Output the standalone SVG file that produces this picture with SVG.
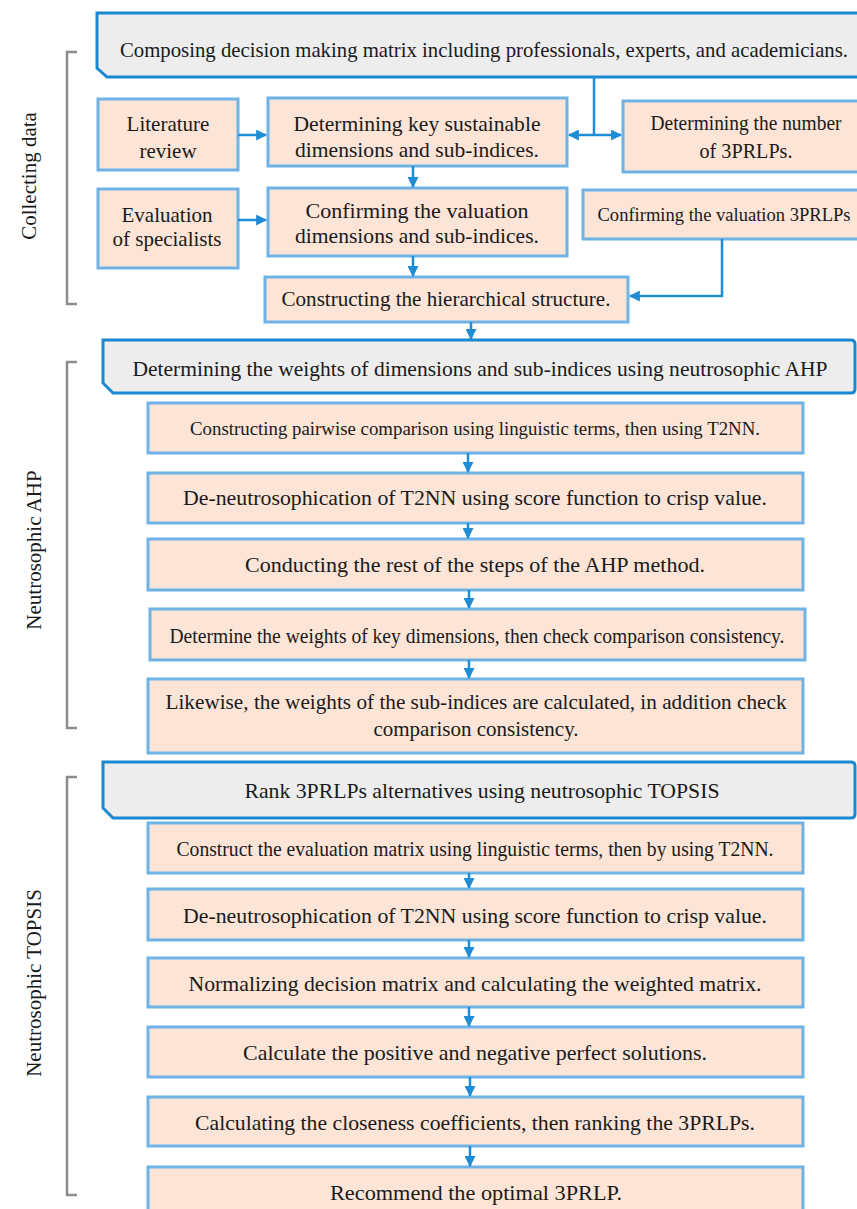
<svg xmlns="http://www.w3.org/2000/svg" width="857" height="1209" viewBox="0 0 857 1209">
<defs>
<style>
.box{fill:#FCE4D6;stroke:#6FB3E6;stroke-width:3}
.hdr{fill:#EDEDED;stroke:#1A88D2;stroke-width:3}
.t{font-family:"Liberation Serif","Times New Roman",serif;font-size:21px;fill:#1a1a1a;text-anchor:middle}
.s{font-size:18px}
.br{fill:none;stroke:#8C8C8C;stroke-width:2.5}
.c{fill:none;stroke:#1F8DD6;stroke-width:2.5}
</style>
<marker id="ah" viewBox="0 0 10 10" refX="9" refY="5" markerWidth="4.4" markerHeight="4.4" orient="auto-start-reverse" markerUnits="strokeWidth">
<path d="M0,0 L10,5 L0,10 z" fill="#1F8DD6"/>
</marker>
</defs>

<g id="labels">
<path class="br" d="M77,52 L67,52 L67,304 L77,304"/>
<text class="t" transform="translate(36,176) rotate(-90)">Collecting data</text>
<path class="br" d="M77,362 L67,362 L67,728 L77,728"/>
<text class="t" transform="translate(41,550) rotate(-90)">Neutrosophic AHP</text>
<path class="br" d="M77,777 L67,777 L67,1195 L77,1195"/>
<text class="t" transform="translate(41,983) rotate(-90)">Neutrosophic TOPSIS</text>
</g>

<g id="header1">
<path class="hdr" d="M97,13 L862,13 L862,77 L107,77 L97,68 Z"/>
<text class="t" x="484" y="57" textLength="728" lengthAdjust="spacingAndGlyphs">Composing decision making matrix including professionals, experts, and academicians.</text>
</g>

<g id="literature">
<rect class="box" x="98" y="99" width="140" height="71"/>
<text class="t" x="168" y="131">Literature</text>
<text class="t" x="168" y="158">review</text>
</g>

<g id="determining-key">
<rect class="box" x="268" y="98" width="299" height="68"/>
<text class="t" x="417" y="131" textLength="247" lengthAdjust="spacingAndGlyphs">Determining key sustainable</text>
<text class="t" x="417" y="157" textLength="244" lengthAdjust="spacingAndGlyphs">dimensions and sub-indices.</text>
</g>

<g id="determining-number">
<rect class="box" x="623" y="101" width="240" height="71"/>
<text class="t" x="746" y="130" textLength="191" lengthAdjust="spacingAndGlyphs">Determining  the number</text>
<text class="t" x="746" y="158" textLength="93" lengthAdjust="spacingAndGlyphs">of 3PRLPs.</text>
</g>

<g id="evaluation">
<rect class="box" x="98" y="189" width="140" height="79"/>
<text class="t" x="167" y="222">Evaluation</text>
<text class="t" x="167" y="246">of specialists</text>
</g>

<g id="confirming-dims">
<rect class="box" x="268" y="188" width="299" height="68"/>
<text class="t" x="417" y="218" textLength="223" lengthAdjust="spacingAndGlyphs">Confirming the valuation</text>
<text class="t" x="417" y="243" textLength="244" lengthAdjust="spacingAndGlyphs">dimensions and sub-indices.</text>
</g>

<g id="confirming-3prlps">
<rect class="box" x="583" y="190" width="280" height="49"/>
<text class="t s" x="724" y="221" textLength="253" lengthAdjust="spacingAndGlyphs">Confirming the valuation 3PRLPs</text>
</g>

<g id="hierarchical">
<rect class="box" x="265" y="277" width="363" height="45"/>
<text class="t" x="446" y="306" textLength="329" lengthAdjust="spacingAndGlyphs">Constructing the hierarchical structure.</text>
</g>

<g id="header2">
<path class="hdr" d="M103,340 L851,340 Q855,340 855,344 L855,389 Q855,393 851,393 L113,393 L103,383 Z"/>
<text class="t" x="480" y="376" textLength="695" lengthAdjust="spacingAndGlyphs">Determining the weights of dimensions and sub-indices using neutrosophic AHP</text>
</g>

<g id="ahp1">
<rect class="box" x="148" y="403" width="655" height="50"/>
<text class="t s" x="475" y="435" textLength="570" lengthAdjust="spacingAndGlyphs">Constructing pairwise comparison using linguistic terms, then using T2NN.</text>
</g>
<g id="ahp2">
<rect class="box" x="148" y="473" width="655" height="50"/>
<text class="t" x="475" y="505" textLength="584" lengthAdjust="spacingAndGlyphs">De-neutrosophication of T2NN using score function to crisp value.</text>
</g>
<g id="ahp3">
<rect class="box" x="148" y="539" width="655" height="51"/>
<text class="t" x="475" y="572" textLength="460" lengthAdjust="spacingAndGlyphs">Conducting the rest of the steps of the AHP method.</text>
</g>
<g id="ahp4">
<rect class="box" x="150" y="609" width="655" height="51"/>
<text class="t" x="477" y="643" textLength="615" lengthAdjust="spacingAndGlyphs">Determine  the weights  of key dimensions, then check comparison  consistency.</text>
</g>
<g id="ahp5">
<rect class="box" x="148" y="679" width="655" height="74"/>
<text class="t" x="476" y="709" textLength="621" lengthAdjust="spacingAndGlyphs">Likewise, the weights of the sub-indices are calculated, in addition check</text>
<text class="t" x="476" y="736">comparison consistency.</text>
</g>

<g id="header3">
<path class="hdr" d="M103,762 L851,762 Q855,762 855,766 L855,814 Q855,818 851,818 L113,818 L103,808 Z"/>
<text class="t" x="482" y="798" textLength="475" lengthAdjust="spacingAndGlyphs">Rank 3PRLPs alternatives using neutrosophic TOPSIS</text>
</g>

<g id="top1">
<rect class="box" x="148" y="823" width="655" height="50"/>
<text class="t" x="475" y="856" textLength="597" lengthAdjust="spacingAndGlyphs">Construct the evaluation  matrix  using linguistic terms, then by using T2NN.</text>
</g>
<g id="top2">
<rect class="box" x="148" y="889" width="655" height="51"/>
<text class="t" x="475" y="923" textLength="584" lengthAdjust="spacingAndGlyphs">De-neutrosophication of T2NN using score function to crisp value.</text>
</g>
<g id="top3">
<rect class="box" x="148" y="958" width="655" height="49"/>
<text class="t" x="475" y="991" textLength="573" lengthAdjust="spacingAndGlyphs">Normalizing decision matrix and calculating the weighted matrix.</text>
</g>
<g id="top4">
<rect class="box" x="148" y="1027" width="655" height="50"/>
<text class="t" x="475" y="1060" textLength="464" lengthAdjust="spacingAndGlyphs">Calculate the positive and negative perfect solutions.</text>
</g>
<g id="top5">
<rect class="box" x="148" y="1097" width="655" height="49"/>
<text class="t" x="475" y="1130" textLength="560" lengthAdjust="spacingAndGlyphs">Calculating the closeness coefficients, then ranking the 3PRLPs.</text>
</g>
<g id="top6">
<rect class="box" x="148" y="1167" width="655" height="60"/>
<text class="t" x="476" y="1200" textLength="292" lengthAdjust="spacingAndGlyphs">Recommend the optimal 3PRLP.</text>
</g>

<g id="connectors">
<path class="c" d="M594,77 L594,135"/>
<path class="c" d="M594,135 L569,135" marker-end="url(#ah)"/>
<path class="c" d="M594,135 L621,135" marker-end="url(#ah)"/>
<path class="c" d="M238,135 L266,135" marker-end="url(#ah)"/>
<path class="c" d="M238,220 L266,220" marker-end="url(#ah)"/>
<path class="c" d="M413,166 L413,187" marker-end="url(#ah)"/>
<path class="c" d="M413,256 L413,276" marker-end="url(#ah)"/>
<path class="c" d="M722,239 L722,296 L630,296" marker-end="url(#ah)"/>
<path class="c" d="M471,322 L471,339" marker-end="url(#ah)"/>
<path class="c" d="M468,453 L468,472" marker-end="url(#ah)"/>
<path class="c" d="M468,523 L468,538" marker-end="url(#ah)"/>
<path class="c" d="M469,590 L469,608" marker-end="url(#ah)"/>
<path class="c" d="M469,660 L469,678" marker-end="url(#ah)"/>
<path class="c" d="M469,873 L469,888" marker-end="url(#ah)"/>
<path class="c" d="M469,940 L469,957" marker-end="url(#ah)"/>
<path class="c" d="M469,1007 L469,1026" marker-end="url(#ah)"/>
<path class="c" d="M470,1077 L470,1096" marker-end="url(#ah)"/>
<path class="c" d="M470,1146 L470,1166" marker-end="url(#ah)"/>
</g>
</svg>
